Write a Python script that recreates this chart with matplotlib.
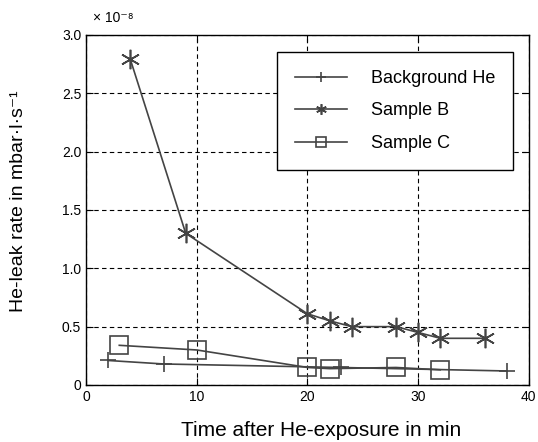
import matplotlib
matplotlib.use("Agg")
import matplotlib.pyplot as plt

plt.rcParams['font.family'] = ['Liberation Sans', 'DejaVu Sans']

bg_x = [2, 7, 23, 38]
bg_y = [0.21, 0.18, 0.15, 0.12]
b_x = [4, 9, 20, 22, 24, 28, 30, 32, 36]
b_y = [2.79, 1.30, 0.61, 0.55, 0.50, 0.50, 0.45, 0.40, 0.40]
c_x = [3, 10, 20, 22, 28, 32]
c_y = [0.34, 0.30, 0.15, 0.14, 0.15, 0.13]

xticks = [0, 10, 20, 30, 40]
yticks = [0, 0.5, 1.0, 1.5, 2.0, 2.5, 3.0]
ytick_labels = ['0', '0.5', '1.0', '1.5', '2.0', '2.5', '3.0']

fig = plt.figure(figsize=(5.38, 4.42), dpi=100)
ax = fig.add_axes([0.160, 0.129, 0.823, 0.792])

col = '#444444'
ax.plot(bg_x, bg_y, color=col, lw=1.2, marker='+', ms=12, mew=1.2, label='Background He')
ax.plot(b_x, b_y, color=col, lw=1.2, marker=(6, 2, 0), ms=14, mew=1.2, label='Sample B')
ax.plot(c_x, c_y, color=col, lw=1.2, marker='s', ms=13, mew=1.2, mfc='none', label='Sample C')

ax.set_xlim(0, 40)
ax.set_ylim(0, 3.0)
ax.set_xticks(xticks)
ax.set_yticks(yticks)
ax.set_yticklabels(ytick_labels)
ax.tick_params(direction='in', top=True, right=True, length=5, labelsize=10)
ax.grid(True, color='black', linestyle=(0, (4, 3)), linewidth=0.8)
for s in ax.spines.values():
    s.set_linewidth(1.0)

fig.text(321 / 538, 1 - 430 / 442, 'Time after He-exposure in min', fontsize=15,
         ha='center', va='center')
fig.text(19 / 538, 1 - 201 / 442, 'He-leak rate in mbar·l·s⁻¹', fontsize=14,
         ha='center', va='center', rotation=90)
fig.text(0.172, 0.950, '× 10⁻⁸', fontsize=10)

leg = ax.legend(loc='upper left', bbox_to_anchor=(0.431, 0.951), fontsize=13,
                fancybox=False, edgecolor='black', framealpha=1,
                handlelength=2.9, borderpad=1.0, labelspacing=0.85,
                handletextpad=1.3, borderaxespad=0, markerscale=0.55)
leg.get_frame().set_linewidth(1.0)

fig.savefig('out.png', dpi=100)
